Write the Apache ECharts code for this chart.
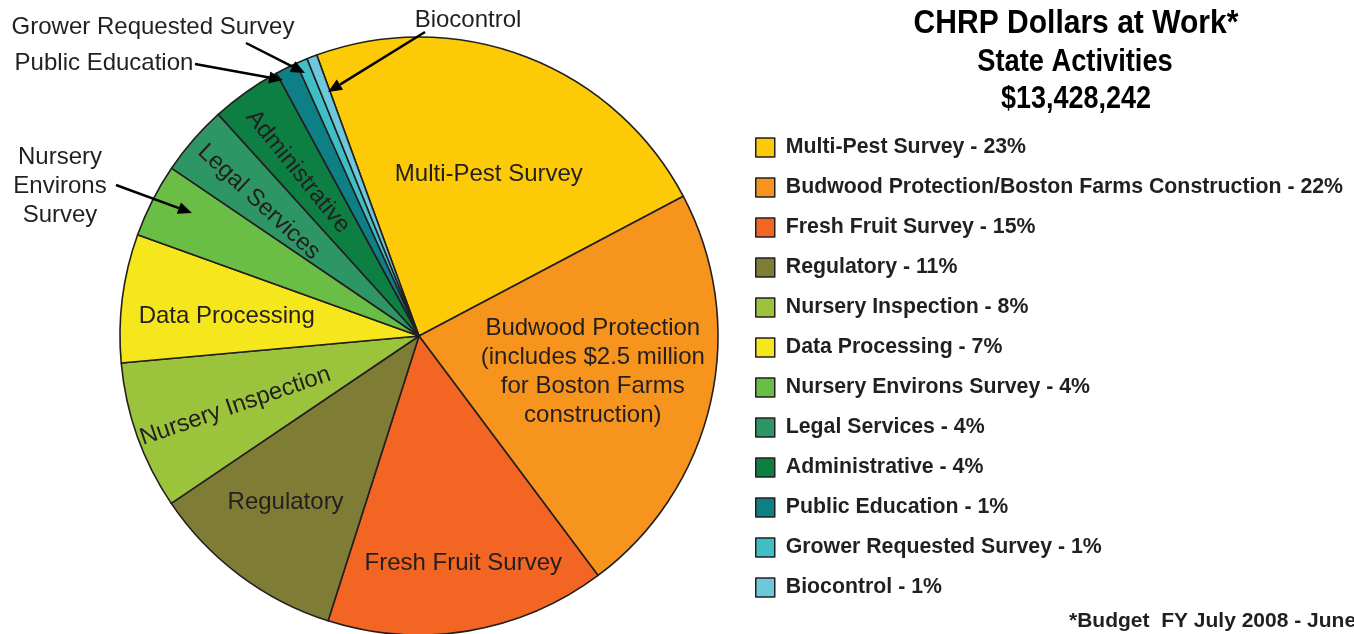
<!DOCTYPE html>
<html>
<head>
<meta charset="utf-8">
<script src="https://cdn.jsdelivr.net/npm/echarts@6/dist/echarts.min.js"></script>
<style>
  html, body { margin: 0; padding: 0; background: #fff; }
  #chart { width: 1354px; height: 634px; }
</style>
</head>
<body>
<div id="chart"></div>
<script>
// slices, clockwise from the top
const categories = [
  'Multi-Pest Survey',
  'Budwood Protection/Boston Farms Construction',
  'Fresh Fruit Survey',
  'Regulatory',
  'Nursery Inspection',
  'Data Processing',
  'Nursery Environs Survey',
  'Legal Services',
  'Administrative',
  'Public Education',
  'Grower Requested Survey',
  'Biocontrol'
];
// dollars (total ~ $13.4M)
const budget = [3060000, 3020000, 2030000, 1425000, 1075000, 930000, 535000, 510000, 510000, 160000, 82000, 74000];
const percentLabels = [23, 22, 15, 11, 8, 7, 4, 4, 4, 1, 1, 1];
const sliceLabels = [
  'Multi-Pest Survey',
  'Budwood Protection\n(includes $2.5 million\nfor Boston Farms\nconstruction)',
  'Fresh Fruit Survey',
  'Regulatory',
  'Nursery Inspection',
  'Data Processing',
  '',
  'Legal Services',
  'Administrative',
  '', '', ''
];

const colors = ['#fcca06', '#f7941d', '#f26522', '#7f7d35', '#9bc43c', '#f5e71c',
                '#6abd45', '#2e9665', '#0e7f43', '#0f7f86', '#3fbfc5', '#6dc8db'];

// screen offset of each inside label from its default spot, plus rotation
const labelTweaks = [
  { dx: 15, dy: -19, rotate: 0 },
  { dx: 25, dy: 2, rotate: 0 },
  { dx: 19, dy: 77, rotate: 0 },
  { dx: -42, dy: 44, rotate: 0 },
  { dx: -40, dy: 19, rotate: 19 },
  { dx: -41, dy: 0, rotate: 0 },
  { dx: 0, dy: 0, rotate: 0 },
  { dx: -45, dy: -34, rotate: -43 },
  { dx: -33, dy: -40, rotate: -51 },
  { dx: 0, dy: 0, rotate: 0 },
  { dx: 0, dy: 0, rotate: 0 },
  { dx: 0, dy: 0, rotate: 0 }
];

const ink = '#231f20';
const sans = '"Liberation Sans", Arial, sans-serif';

function arrow(x1, y1, x2, y2) {
  const ang = Math.atan2(y2 - y1, x2 - x1);
  const len = 14, half = 6;
  const bx = x2 - len * Math.cos(ang), by = y2 - len * Math.sin(ang);
  const px = -Math.sin(ang) * half, py = Math.cos(ang) * half;
  return [
    { type: 'line', z: 100, shape: { x1: x1, y1: y1, x2: bx, y2: by }, style: { stroke: '#000', lineWidth: 2.5 } },
    { type: 'polygon', z: 100, shape: { points: [[x2, y2], [bx + px, by + py], [bx - px, by - py]] }, style: { fill: '#000' } }
  ];
}

function note(text, x, y) {
  return {
    type: 'text', z: 100, x: x, y: y,
    style: { text: text, font: '24px ' + sans, fill: ink, align: 'center', verticalAlign: 'middle', lineHeight: 29 }
  };
}

// condensed heading text: squeeze a bold face horizontally
function heading(text, x, y, size, squeeze) {
  return {
    type: 'text', z: 100, x: x, y: y, scaleX: squeeze,
    style: { text: text, font: 'bold ' + size + 'px ' + sans, fill: '#000', align: 'center', verticalAlign: 'middle' }
  };
}

const chart = echarts.init(document.getElementById('chart'));

chart.setOption({
  backgroundColor: '#fff',
  animation: false,
  legend: {
    orient: 'vertical',
    left: 755,
    top: 137,
    padding: 0,
    itemWidth: 19,
    itemHeight: 19,
    itemGap: 19,
    icon: 'rect',
    selectedMode: false,
    data: categories,
    itemStyle: { borderColor: ink, borderWidth: 1.5 },
    textStyle: { fontFamily: sans, fontWeight: 'bold', fontSize: 21.3, lineHeight: 21, color: ink, padding: [0, 0, 0, 6] },
    formatter: function (name) {
      return name + ' - ' + percentLabels[categories.indexOf(name)] + '%';
    }
  },
  graphic: [
    heading('CHRP Dollars at Work*', 1076, 24, 33, 0.91),
    heading('State Activities', 1075, 62, 31, 0.88),
    heading('$13,428,242', 1076, 99, 31, 0.87),
    {
      type: 'text', z: 100, x: 1069, y: 621,
      style: { text: '*Budget  FY July 2008 - June 2009', font: 'bold 21px ' + sans, fill: ink, align: 'left', verticalAlign: 'middle' }
    },
    note('Grower Requested Survey', 153, 27),
    note('Public Education', 104, 63),
    note('Biocontrol', 468, 20),
    note('Nursery\nEnvirons\nSurvey', 60, 186)
  ].concat(
    arrow(246, 43, 305, 73),
    arrow(195, 64, 283, 80),
    arrow(425, 32, 328, 92),
    arrow(116, 185, 192, 213)
  ),
  series: [
    {
      type: 'pie',
      center: [419, 336],
      radius: 299,
      startAngle: 110,
      clockwise: true,
      avoidLabelOverlap: false,
      color: colors,
      itemStyle: { borderColor: ink, borderWidth: 1.6 },
      emphasis: { disabled: true },
      label: {
        show: true,
        position: 'inside',
        fontFamily: sans,
        fontSize: 24,
        lineHeight: 29,
        color: ink,
        formatter: function (p) { return sliceLabels[p.dataIndex]; }
      },
      labelLine: { show: false },
      labelLayout: function (p) {
        const t = labelTweaks[p.dataIndex];
        // dx/dy act in the label's rotated frame, so turn the screen offset back
        const a = t.rotate * Math.PI / 180;
        return {
          dx: t.dx * Math.cos(a) - t.dy * Math.sin(a),
          dy: t.dx * Math.sin(a) + t.dy * Math.cos(a),
          rotate: t.rotate
        };
      },
      data: categories.map(function (name, i) {
        return { name: name, value: budget[i] };
      })
    }
  ]
});
</script>
</body>
</html>
